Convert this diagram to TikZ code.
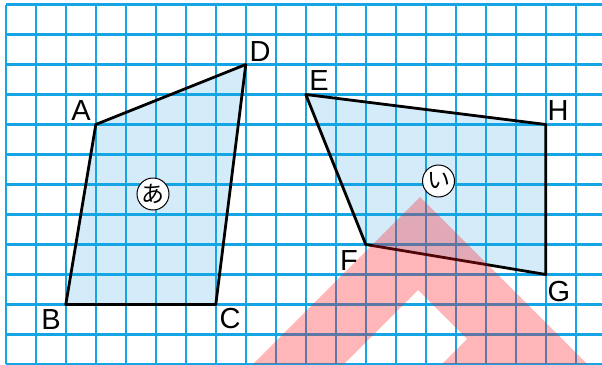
\documentclass[tikz,border=0pt]{standalone}
\usepackage{fontspec}
\setmainfont{Liberation Sans}
\newfontfamily\jpfont{Noto Sans CJK JP}
\definecolor{gridblue}{RGB}{22,165,228}
\definecolor{shapefill}{RGB}{212,236,250}
\definecolor{markred}{RGB}{255,20,30}
\begin{document}
\begin{tikzpicture}[x=1pt,y=-1pt,
  gridline/.style={draw=gridblue,line width=2.2pt},
  shapeline/.style={draw=black,line width=2.8pt,line join=round},
  shapearea/.style={fill=shapefill},
  ptlabel/.style={inner sep=0pt,anchor=base,font=\fontsize{29}{29}\selectfont},
  kanamark/.style={circle,draw=black,fill=white,line width=1pt,minimum size=32pt,inner sep=0pt,font=\jpfont\fontsize{23}{23}\selectfont},
  watermark/.style={fill=markred,fill opacity=0.31}]
\useasboundingbox (0,0) rectangle (602,364);
\clip (0,0) rectangle (602,364);
% vertices
\coordinate (A) at (95.8,124.5);
\coordinate (D) at (245.8,64.5);
\coordinate (B) at (65.8,304.5);
\coordinate (C) at (215.8,304.5);
\coordinate (E) at (305.8,94.5);
\coordinate (H) at (545.8,124.5);
\coordinate (G) at (545.8,274.5);
\coordinate (F) at (365.8,244.5);
% fills
\path[shapearea] (A) -- (D) -- (C) -- (B) -- cycle;
\path[shapearea] (E) -- (H) -- (G) -- (F) -- cycle;
% grid
\foreach \i in {0,...,20} \draw[gridline] (5.8+30*\i,4.5) -- (5.8+30*\i,364);
\foreach \j in {0,...,12} \draw[gridline] (5.8,4.5+30*\j) -- (602,4.5+30*\j);
% outlines
\draw[shapeline] (A) -- (D) -- (C) -- (B) -- cycle;
\draw[shapeline] (E) -- (H) -- (G) -- (F) -- cycle;
% labels
\node[ptlabel] (lA) at (81,120) {A};
\node[ptlabel] (lD) at (260,61) {D};
\node[ptlabel] (lE) at (319,90.5) {E};
\node[ptlabel] (lH) at (558,120.5) {H};
\node[ptlabel] (lB) at (51,329) {B};
\node[ptlabel] (lC) at (230,328.5) {C};
\node[ptlabel] (lF) at (349,270) {F};
\node[ptlabel] (lG) at (559,301) {G};
\node[kanamark] (ka) at (153,194) {あ};
\node[kanamark] (ki) at (438.5,181) {い};
% watermark overlay
\path[watermark] (253,364) -- (420,197) -- (587,364) -- (442,364) -- (467,339) -- (418,290) -- (344,364) -- cycle;
\end{tikzpicture}
\end{document}
